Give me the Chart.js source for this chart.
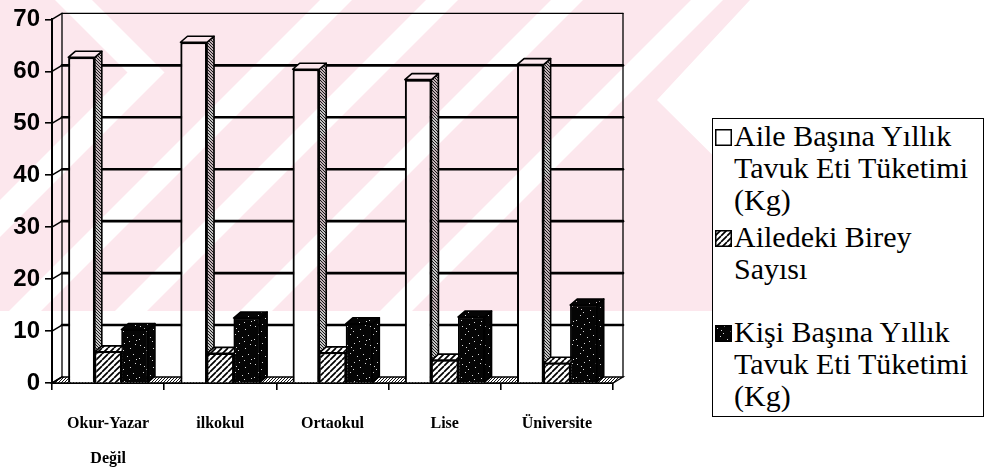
<!DOCTYPE html>
<html>
<head>
<meta charset="utf-8">
<script src="https://cdn.jsdelivr.net/npm/chart.js@4.4.1/dist/chart.umd.min.js"></script>
<style>
  html, body { margin: 0; padding: 0; background: #fff; }
  #wrap { position: relative; width: 992px; height: 474px; overflow: hidden; background: #fff; }
  #chart { position: absolute; left: 0; top: 0; }
  #legend {
    position: absolute; left: 712px; top: 118px; width: 272px; height: 299px;
    box-sizing: border-box; border: 1.6px solid #000; background: #fff;
    font-family: "Liberation Serif", "DejaVu Serif", "Times New Roman", serif;
    font-size: 30px; line-height: 32px; color: #000;
  }
  .entry { position: absolute; left: 0; width: 268px; }
  .entry canvas { position: absolute; left: 2px; top: 9px; width: 17px; height: 17px; }
  .entry .txt { position: absolute; left: 21px; top: 0; white-space: nowrap; }
</style>
</head>
<body>
<div id="wrap">
  <canvas id="chart" width="992" height="474"></canvas>
  <div id="legend"></div>
</div>
<script>
// Education level of the household head
const categories = [['Okur-Yazar', 'Değil'], 'ilkokul', 'Ortaokul', 'Lise', 'Üniversite'];

// Series names, split into the lines shown in the legend box
const legendLines = [
  ['Aile Başına Yıllık', 'Tavuk Eti Tüketimi', '(Kg)'],
  ['Ailedeki Birey', 'Sayısı'],
  ['Kişi Başına Yıllık', 'Tavuk Eti Tüketimi', '(Kg)']
];
const seriesLabels = legendLines.map(l => l.join(' '));

// Values per education level
const aileBasinaKg = [62.7, 65.6, 60.4, 58.4, 61.3];
const bireySayisi  = [6.0, 5.7, 5.8, 4.4, 3.8];
const kisiBasinaKg = [10.3, 12.5, 11.4, 12.7, 15.0];

// Value axis ticks
const yTicks = [0, 10, 20, 30, 40, 50, 60, 70];

const SERIF = '"Liberation Serif", "DejaVu Serif", "Times New Roman", serif';

// Depth of the back wall and of each column
const DX = 10, DY = 6, BDX = 7, BDY = 6;
// Lower edge of the top watermark band
const WM_BOTTOM = 311;

function makeCanvas(w, h) { const c = document.createElement('canvas'); c.width = w; c.height = h; return c; }

// Fine grey texture used on the column side faces
function sideTexture(ctx) {
  const c = makeCanvas(3, 3), g = c.getContext('2d');
  g.fillStyle = '#c4c4c4'; g.fillRect(0, 0, 3, 3);
  g.fillStyle = '#1a1a1a';
  for (let i = 0; i < 3; i++) g.fillRect(i, i, 1, 1);
  return ctx.createPattern(c, 'repeat');
}
// Fine "/" texture for the floor
function floorTexture(ctx) {
  const c = makeCanvas(3, 3), g = c.getContext('2d');
  g.fillStyle = '#ffffff'; g.fillRect(0, 0, 3, 3);
  g.fillStyle = '#111';
  for (let i = 0; i < 3; i++) g.fillRect(2 - i, i, 1, 1);
  return ctx.createPattern(c, 'repeat');
}
// Diagonal hatching
function hatchTexture(ctx) {
  const s = 6, c = makeCanvas(s, s), g = c.getContext('2d');
  g.fillStyle = '#fff'; g.fillRect(0, 0, s, s);
  g.strokeStyle = '#000'; g.lineWidth = 1.7;
  g.beginPath();
  for (const o of [-s, 0, s]) { g.moveTo(o, s); g.lineTo(o + s, 0); }
  g.stroke();
  return ctx.createPattern(c, 'repeat');
}
// Black with light specks
function speckTexture(ctx) {
  const c = makeCanvas(23, 19), g = c.getContext('2d');
  g.fillStyle = '#050505'; g.fillRect(0, 0, 23, 19);
  g.fillStyle = '#d8d8d8';
  const specks = [[2,3],[9,1],[15,6],[20,2],[5,11],[12,14],[18,12],[1,16],[8,8],[21,17],[14,18],[6,5]];
  for (const [x, y] of specks) g.fillRect(x, y, 1, 1);
  return ctx.createPattern(c, 'repeat');
}

// Light watermark band over the upper part of the page
function buildWatermark(w, h) {
  const c = makeCanvas(w, h), g = c.getContext('2d');
  g.fillStyle = 'rgb(252,231,237)';
  g.beginPath();
  g.moveTo(0, 0); g.lineTo(750, 0); g.lineTo(657, 100); g.lineTo(870, WM_BOTTOM); g.lineTo(0, WM_BOTTOM);
  g.closePath(); g.fill();
  g.globalCompositeOperation = 'destination-out';
  g.fillStyle = '#000';
  // chevron
  g.beginPath();
  g.moveTo(55, 0); g.lineTo(92, 0); g.lineTo(164.5, 72.5); g.lineTo(0, 237); g.lineTo(0, 200); g.lineTo(127.5, 72.5);
  g.closePath(); g.fill();
  // parallel light stripes
  for (const k of [336, 442, 567, 707]) {
    const a = k - 16, b = k + 16;
    g.beginPath(); g.moveTo(a, 0); g.lineTo(b, 0); g.lineTo(0, b); g.lineTo(0, a); g.closePath(); g.fill();
  }
  return c;
}

const canvas = document.getElementById('chart');
const ctx0 = canvas.getContext('2d');
const tex = {
  side: sideTexture(ctx0),
  floor: floorTexture(ctx0),
  hatch: hatchTexture(ctx0),
  speck: speckTexture(ctx0)
};
const fills = [
  { front: '#ffffff', top: '#ffffff', side: tex.side },
  { front: tex.hatch, top: tex.hatch, side: tex.side },
  { front: tex.speck, top: tex.speck, side: tex.speck }
];
const watermark = buildWatermark(992, 474);

const depthPlugin = {
  id: 'depth',
  beforeDraw(chart) {
    const c = chart.ctx;
    c.save(); c.fillStyle = '#fff'; c.fillRect(0, 0, chart.width, chart.height); c.restore();
  },
  beforeDatasetsDraw(chart) {
    const c = chart.ctx, a = chart.chartArea, y = chart.scales.y;
    c.save();
    c.lineCap = 'round';
    // floor
    c.beginPath();
    c.moveTo(a.left, a.bottom); c.lineTo(a.right, a.bottom);
    c.lineTo(a.right + DX, a.bottom - DY); c.lineTo(a.left + DX, a.bottom - DY);
    c.closePath();
    c.fillStyle = tex.floor; c.fill();
    c.strokeStyle = '#000'; c.lineWidth = 1.3; c.stroke();
    // back wall edges
    const top = y.getPixelForValue(yTicks[yTicks.length - 1]) - DY;
    c.lineWidth = 1.3;
    c.beginPath();
    c.moveTo(a.left + DX, a.bottom - DY); c.lineTo(a.left + DX, top);
    c.moveTo(a.right + DX, a.bottom - DY); c.lineTo(a.right + DX, top);
    c.stroke();
    // grid lines on the back wall and their links to the axis
    for (const v of yTicks) {
      const py = y.getPixelForValue(v);
      c.lineWidth = 1.5;
      c.beginPath(); c.moveTo(a.left, py); c.lineTo(a.left + DX, py - DY); c.stroke();
      if (v > 0) {
        c.lineWidth = v === yTicks[yTicks.length - 1] ? 1.3 : 2.6;
        c.beginPath(); c.moveTo(a.left + DX, py - DY); c.lineTo(a.right + DX, py - DY); c.stroke();
      }
    }
    c.restore();
  },
  // columns are painted back to front: each series' front face, then its side and top
  afterDatasetsDraw(chart) {
    const c = chart.ctx;
    chart.data.datasets.forEach((ds, i) => {
      const meta = chart.getDatasetMeta(i), f = fills[i];
      for (const bar of meta.data) {
        bar.draw(c);
        const { x, y, width, base } = bar.getProps(['x', 'y', 'width', 'base'], true);
        const l = x - width / 2, r = x + width / 2;
        c.save();
        c.strokeStyle = '#000'; c.lineWidth = 1.6; c.lineJoin = 'round';
        c.beginPath();
        c.moveTo(r, y); c.lineTo(r + BDX, y - BDY); c.lineTo(r + BDX, base - BDY); c.lineTo(r, base);
        c.closePath(); c.fillStyle = f.side; c.fill(); c.stroke();
        c.beginPath();
        c.moveTo(l, y); c.lineTo(l + BDX, y - BDY); c.lineTo(r + BDX, y - BDY); c.lineTo(r, y);
        c.closePath(); c.fillStyle = f.top; c.fill(); c.stroke();
        c.restore();
      }
    });
  },
  afterDraw(chart) {
    const c = chart.ctx;
    c.save();
    c.globalCompositeOperation = 'multiply';
    c.drawImage(watermark, 0, 0);
    c.restore();
  }
};

new Chart(ctx0, {
  type: 'bar',
  data: {
    labels: categories,
    datasets: [
      { label: seriesLabels[0], data: aileBasinaKg, backgroundColor: fills[0].front, borderColor: '#000', borderWidth: 2 },
      { label: seriesLabels[1], data: bireySayisi, backgroundColor: fills[1].front, borderColor: '#000', borderWidth: 1.5 },
      { label: seriesLabels[2], data: kisiBasinaKg, backgroundColor: fills[2].front, borderColor: '#000', borderWidth: 1.5 }
    ]
  },
  options: {
    responsive: false,
    animation: false,
    devicePixelRatio: 1,
    layout: { padding: { top: 15, right: 379, left: 0, bottom: 0 } },
    datasets: { bar: { barPercentage: 1, categoryPercentage: 0.71 } },
    plugins: { legend: { display: false }, tooltip: { enabled: false } },
    scales: {
      x: {
        offset: true,
        grid: { offset: true, drawOnChartArea: false, drawTicks: true, tickLength: 7, color: '#000', lineWidth: 1.6 },
        border: { display: true, color: '#000', width: 2 },
        ticks: {
          color: '#000', autoSkip: false, maxRotation: 0, padding: 16,
          font: { family: SERIF, size: 16, weight: 'bold', lineHeight: 2.2 }
        },
        afterFit(s) { s.height = 91; }
      },
      y: {
        min: 0, max: 70,
        afterBuildTicks(s) { s.ticks = yTicks.map(v => ({ value: v })); },
        grid: { drawOnChartArea: false, drawTicks: true, tickLength: 7, color: '#000', lineWidth: 1.6 },
        border: { display: true, color: '#000', width: 2 },
        ticks: { color: '#000', padding: 5, font: { family: '"Liberation Sans", Arial, sans-serif', size: 24, weight: 'bold' } },
        afterFit(s) { s.width = 52; }
      }
    }
  },
  plugins: [depthPlugin]
});

// Legend box
const legendTops = [1.3, 102.3, 197.3];
const legend = document.getElementById('legend');
legendLines.forEach((lines, i) => {
  const e = document.createElement('div');
  e.className = 'entry';
  e.style.top = legendTops[i] + 'px';
  const sw = makeCanvas(17, 17);
  const g = sw.getContext('2d');
  g.fillStyle = fills[i].front; g.fillRect(0, 0, 17, 17);
  g.strokeStyle = '#000'; g.lineWidth = 1.5; g.strokeRect(0.75, 0.75, 15.5, 15.5);
  e.appendChild(sw);
  const t = document.createElement('div');
  t.className = 'txt';
  t.innerHTML = lines.map(s => s.replace(/&/g, '&amp;')).join('<br>');
  e.appendChild(t);
  legend.appendChild(e);
});
</script>
</body>
</html>
